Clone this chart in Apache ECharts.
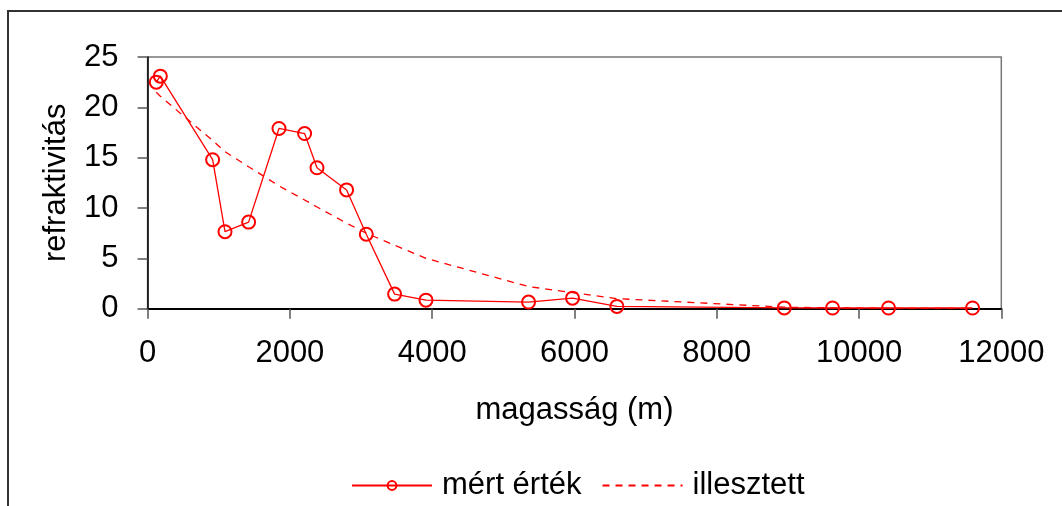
<!DOCTYPE html>
<html>
<head>
<meta charset="utf-8">
<script src="https://cdn.jsdelivr.net/npm/echarts@6/dist/echarts.min.js"></script>
<style>
  html, body { margin: 0; padding: 0; background: #fff; }
  #chart { width: 1062px; height: 506px; }
</style>
</head>
<body>
<div id="chart"></div>
<script>
  // magasság (m)
  var heights = [122, 179, 914, 1088, 1420, 1847, 2207, 2381, 2797, 3074, 3472, 3913, 5355, 5973, 6597, 8949, 9628, 10415, 11596];
  // mért érték
  var measured = [22.5, 23.1, 14.8, 7.65, 8.6, 17.9, 17.4, 14.0, 11.8, 7.4, 1.45, 0.85, 0.66, 1.05, 0.23, 0.08, 0.07, 0.07, 0.07];
  // illesztett
  var fitted = [21.5, 21.1, 16.7, 15.6, 14.1, 12.2, 10.8, 10.1, 8.5, 7.5, 6.3, 5.0, 2.2, 1.6, 1.0, 0.15, 0.08, 0.04, 0.02];

  var seriesNames = ['mért érték', 'illesztett'];
  var xTicks = { min: 0, max: 12000, interval: 2000 };
  var yTicks = { min: 0, max: 25, interval: 5 };

  var font = "'Liberation Sans', Arial, sans-serif";
  var fs = 31;

  function pairs(xs, ys) {
    var out = [];
    for (var i = 0; i < xs.length; i++) out.push([xs[i], ys[i]]);
    return out;
  }

  var chart = echarts.init(document.getElementById('chart'));
  var option = {
    backgroundColor: '#fff',
    animation: false,
    textStyle: { fontFamily: font },
    graphic: [{
      type: 'rect',
      shape: { x: 8, y: 11, width: 1200, height: 700 },
      style: { fill: 'none', stroke: '#333', lineWidth: 2 },
      silent: true
    }],
    grid: {
      left: 147.6, right: 60.7, top: 57, bottom: 197.3,
      show: true, borderColor: '#777', borderWidth: 1.5, backgroundColor: 'transparent'
    },
    legend: {
      left: 346, top: 465,
      itemWidth: 80, itemHeight: 11, itemGap: 20,
      textStyle: { fontSize: fs, color: '#000', fontFamily: font, padding: [0, 0, 0, 5] },
      data: [
        { name: seriesNames[0] },
        { name: seriesNames[1], itemStyle: { color: 'transparent', borderWidth: 0 } }
      ]
    },
    xAxis: {
      type: 'value',
      min: xTicks.min, max: xTicks.max, interval: xTicks.interval,
      name: 'magasság (m)', nameLocation: 'middle', nameGap: 86,
      nameTextStyle: { fontSize: fs, color: '#000', fontFamily: font },
      axisLine: { show: true, onZero: false, lineStyle: { color: '#000', width: 2 } },
      axisTick: { show: true, length: 10, lineStyle: { color: '#555', width: 1.5 } },
      axisLabel: { fontSize: fs, color: '#000', margin: 29, fontFamily: font,
        formatter: function (v) { return String(v); } },
      splitLine: { show: false }
    },
    yAxis: {
      type: 'value',
      min: yTicks.min, max: yTicks.max, interval: yTicks.interval,
      name: 'refraktivitás', nameLocation: 'middle', nameGap: 76, nameRotate: 90,
      nameTextStyle: { fontSize: fs, color: '#000', fontFamily: font },
      axisLine: { show: true, lineStyle: { color: '#000', width: 1.5 } },
      axisTick: { show: true, length: 10, lineStyle: { color: '#555', width: 1.5 } },
      axisLabel: { fontSize: fs, color: '#000', margin: 29, fontFamily: font },
      splitLine: { show: false }
    },
    series: [{
      name: seriesNames[0],
      type: 'line',
      data: pairs(heights, measured),
      symbol: 'circle',
      symbolSize: 13,
      showAllSymbol: true,
      lineStyle: { color: '#ff0000', width: 1.3 },
      itemStyle: { color: 'transparent', borderColor: '#ff0000', borderWidth: 2 },
      z: 3
    }, {
      name: seriesNames[1],
      type: 'line',
      data: pairs(heights, fitted),
      symbol: 'none',
      lineStyle: { color: '#ff0000', width: 1.3, type: [7, 6] },
      itemStyle: { color: '#ff0000' },
      z: 2
    }]
  };
  chart.setOption(option);
</script>
</body>
</html>
